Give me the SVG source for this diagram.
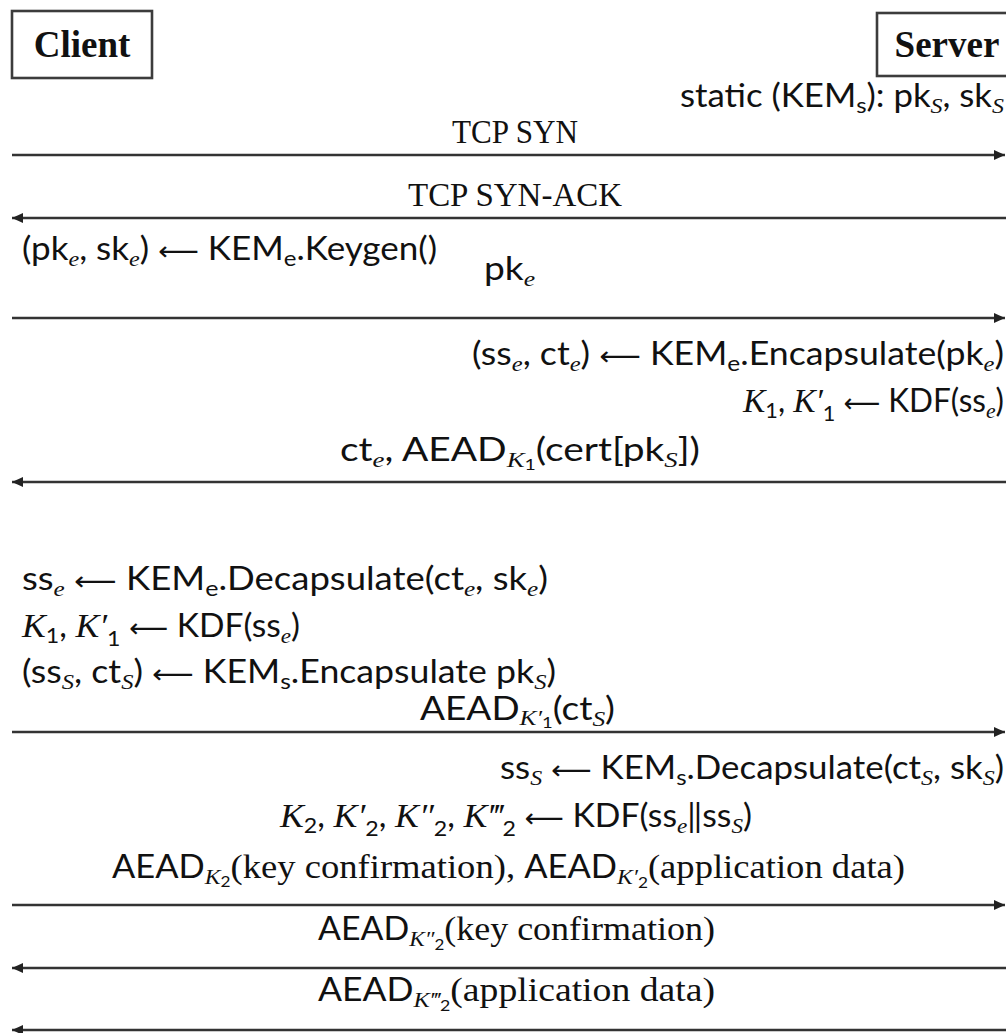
<svg xmlns="http://www.w3.org/2000/svg" width="1006" height="1033" viewBox="0 0 1006 1033">
<style>
.bg{fill:#fff}
.box{fill:#fff;stroke:#3c3c3c;stroke-width:2.6}
.hd{font-family:"Liberation Serif",serif;font-weight:bold;font-size:37px;fill:#111}
.msg{stroke:#333;stroke-width:2.6;fill:none}
.t{font-family:"Lato","Noto Sans",sans-serif;font-size:32px;fill:#111}
.rm{font-family:"Liberation Serif",serif;font-size:34px;fill:#111}
.it{font-family:"Liberation Serif",serif;font-style:italic}
.s{font-size:22px}
.ss{font-size:16px}
.ar{font-family:"DejaVu Sans",sans-serif;font-size:26px}
.sr{font-family:"Liberation Serif",serif;font-size:34px}
</style>
<defs>
<marker id="ah" markerUnits="userSpaceOnUse" markerWidth="12" markerHeight="10" refX="11" refY="5" orient="auto">
<path d="M0,0 L11,5 L0,10 z" fill="#222"/>
</marker>
</defs>
<rect class="bg" x="0" y="0" width="1006" height="1033"/>
<g id="client">
<rect class="box" x="12" y="11" width="140" height="67"/>
<text class="hd" x="82" y="57" text-anchor="middle">Client</text>
</g>
<g id="server">
<rect class="box" x="877" y="13" width="140" height="63"/>
<text class="hd" x="947" y="57" text-anchor="middle">Server</text>
</g>
<g id="connectors">
<line class="msg" x1="12" y1="155" x2="1005" y2="155" marker-end="url(#ah)"/>
<line class="msg" x1="1006" y1="218" x2="12" y2="218" marker-end="url(#ah)"/>
<line class="msg" x1="12" y1="318" x2="1005" y2="318" marker-end="url(#ah)"/>
<line class="msg" x1="1006" y1="482" x2="12" y2="482" marker-end="url(#ah)"/>
<line class="msg" x1="12" y1="732" x2="1005" y2="732" marker-end="url(#ah)"/>
<line class="msg" x1="12" y1="905" x2="1005" y2="905" marker-end="url(#ah)"/>
<line class="msg" x1="1006" y1="968" x2="12" y2="968" marker-end="url(#ah)"/>
<line class="msg" x1="1006" y1="1030" x2="12" y2="1030" marker-end="url(#ah)"/>
</g>
<g id="labels">
<text class="t" x="680" y="107" textLength="324" lengthAdjust="spacingAndGlyphs">static (KEM<tspan class="s" dy="6">s</tspan><tspan dy="-6">): pk</tspan><tspan class="s it" dy="6">S</tspan><tspan dy="-6">, sk</tspan><tspan class="s it" dy="6">S</tspan></text>
<text class="rm" x="452" y="143" textLength="126" lengthAdjust="spacingAndGlyphs">TCP SYN</text>
<text class="rm" x="408" y="206" textLength="214" lengthAdjust="spacingAndGlyphs">TCP SYN-ACK</text>
<text class="t" x="22" y="260" textLength="415" lengthAdjust="spacingAndGlyphs">(pk<tspan class="s it" dy="6">e</tspan><tspan dy="-6">, sk</tspan><tspan class="s it" dy="6">e</tspan><tspan dy="-6">) </tspan><tspan class="ar">⟵</tspan> KEM<tspan class="s" dy="6">e</tspan><tspan dy="-6">.Keygen()</tspan></text>
<text class="t" x="484" y="280" textLength="51" lengthAdjust="spacingAndGlyphs">pk<tspan class="s it" dy="6">e</tspan></text>
<text class="t" x="472" y="365" textLength="532" lengthAdjust="spacingAndGlyphs">(ss<tspan class="s it" dy="6">e</tspan><tspan dy="-6">, ct</tspan><tspan class="s it" dy="6">e</tspan><tspan dy="-6">) </tspan><tspan class="ar">⟵</tspan> KEM<tspan class="s" dy="6">e</tspan><tspan dy="-6">.Encapsulate(pk</tspan><tspan class="s it" dy="6">e</tspan><tspan dy="-6">)</tspan></text>
<text class="t" x="743" y="412" textLength="261" lengthAdjust="spacingAndGlyphs"><tspan class="it sr">K</tspan><tspan class="s" dy="6">1</tspan><tspan dy="-6">, </tspan><tspan class="it sr">K′</tspan><tspan class="s" dy="9">1</tspan><tspan dy="-9"> </tspan><tspan class="ar">⟵</tspan> KDF(ss<tspan class="s it" dy="6">e</tspan><tspan dy="-6">)</tspan></text>
<text class="t" x="340" y="461" textLength="360" lengthAdjust="spacingAndGlyphs">ct<tspan class="s it" dy="6">e</tspan><tspan dy="-6">, AEAD</tspan><tspan class="s it" dy="6">K</tspan><tspan class="ss" dy="3">1</tspan><tspan dy="-9">(cert[pk</tspan><tspan class="s it" dy="6">S</tspan><tspan dy="-6">])</tspan></text>
<text class="t" x="22" y="590" textLength="526" lengthAdjust="spacingAndGlyphs">ss<tspan class="s it" dy="6">e</tspan><tspan dy="-6"> </tspan><tspan class="ar">⟵</tspan> KEM<tspan class="s" dy="6">e</tspan><tspan dy="-6">.Decapsulate(ct</tspan><tspan class="s it" dy="6">e</tspan><tspan dy="-6">, sk</tspan><tspan class="s it" dy="6">e</tspan><tspan dy="-6">)</tspan></text>
<text class="t" x="22" y="637" textLength="278" lengthAdjust="spacingAndGlyphs"><tspan class="it sr">K</tspan><tspan class="s" dy="6">1</tspan><tspan dy="-6">, </tspan><tspan class="it sr">K′</tspan><tspan class="s" dy="9">1</tspan><tspan dy="-9"> </tspan><tspan class="ar">⟵</tspan> KDF(ss<tspan class="s it" dy="6">e</tspan><tspan dy="-6">)</tspan></text>
<text class="t" x="22" y="683" textLength="534" lengthAdjust="spacingAndGlyphs">(ss<tspan class="s it" dy="6">S</tspan><tspan dy="-6">, ct</tspan><tspan class="s it" dy="6">S</tspan><tspan dy="-6">) </tspan><tspan class="ar">⟵</tspan> KEM<tspan class="s" dy="6">s</tspan><tspan dy="-6">.Encapsulate pk</tspan><tspan class="s it" dy="6">S</tspan><tspan dy="-6">)</tspan></text>
<text class="t" x="420" y="720" textLength="195" lengthAdjust="spacingAndGlyphs">AEAD<tspan class="s it" dy="5">K′</tspan><tspan class="ss" dy="3">1</tspan><tspan dy="-8">(ct</tspan><tspan class="s it" dy="6">S</tspan><tspan dy="-6">)</tspan></text>
<text class="t" x="500" y="779" textLength="504" lengthAdjust="spacingAndGlyphs">ss<tspan class="s it" dy="6">S</tspan><tspan dy="-6"> </tspan><tspan class="ar">⟵</tspan> KEM<tspan class="s" dy="6">s</tspan><tspan dy="-6">.Decapsulate(ct</tspan><tspan class="s it" dy="6">S</tspan><tspan dy="-6">, sk</tspan><tspan class="s it" dy="6">S</tspan><tspan dy="-6">)</tspan></text>
<text class="t" x="280" y="827" textLength="472" lengthAdjust="spacingAndGlyphs"><tspan class="it sr">K</tspan><tspan class="s" dy="6">2</tspan><tspan dy="-6">, </tspan><tspan class="it sr">K′</tspan><tspan class="s" dy="9">2</tspan><tspan dy="-9">, </tspan><tspan class="it sr">K″</tspan><tspan class="s" dy="9">2</tspan><tspan dy="-9">, </tspan><tspan class="it sr">K‴</tspan><tspan class="s" dy="9">2</tspan><tspan dy="-9"> </tspan><tspan class="ar">⟵</tspan> KDF(ss<tspan class="s it" dy="6">e</tspan><tspan dy="-6">‖ss</tspan><tspan class="s it" dy="6">S</tspan><tspan dy="-6">)</tspan></text>
<text class="t" x="112" y="878" textLength="793" lengthAdjust="spacingAndGlyphs">AEAD<tspan class="s it" dy="6">K</tspan><tspan class="ss" dy="3">2</tspan><tspan class="sr" dy="-9">(key confirmation), </tspan>AEAD<tspan class="s it" dy="6">K′</tspan><tspan class="ss" dy="4">2</tspan><tspan class="sr" dy="-10">(application data)</tspan></text>
<text class="t" x="318" y="940" textLength="397" lengthAdjust="spacingAndGlyphs">AEAD<tspan class="s it" dy="6">K″</tspan><tspan class="ss" dy="4">2</tspan><tspan class="sr" dy="-10">(key confirmation)</tspan></text>
<text class="t" x="318" y="1001" textLength="397" lengthAdjust="spacingAndGlyphs">AEAD<tspan class="s it" dy="6">K‴</tspan><tspan class="ss" dy="4">2</tspan><tspan class="sr" dy="-10">(application data)</tspan></text>
</g>
</svg>
